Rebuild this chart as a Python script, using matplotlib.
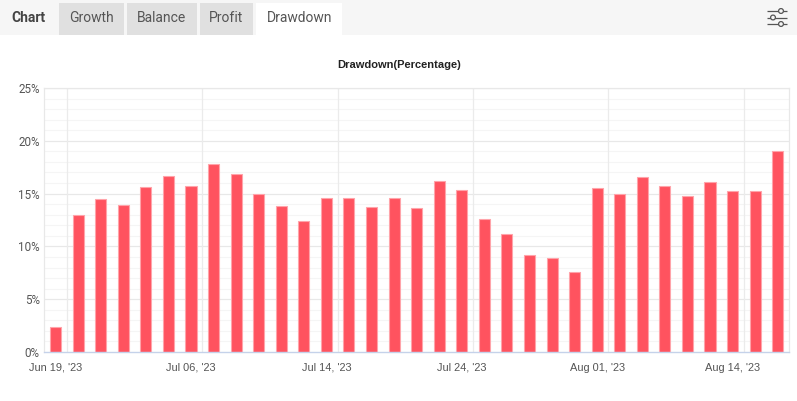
import matplotlib
matplotlib.use("Agg")
import matplotlib.pyplot as plt
from matplotlib.patches import Rectangle, Circle
import numpy as np

W, H = 797, 401
values = [2.4, 13.0, 14.5, 13.9, 15.6, 16.7, 15.7, 17.8, 16.9, 15.0, 13.8, 12.4,
          14.6, 14.6, 13.7, 14.6, 13.6, 16.2, 15.3, 12.6, 11.2, 9.2, 8.9, 7.6,
          15.5, 15.0, 16.6, 15.7, 14.8, 16.1, 15.2, 15.2, 19.0]
label_pos = [0, 6, 12, 18, 24, 30]
date_labels = ["Jun 19, '23", "Jul 06, '23", "Jul 14, '23", "Jul 24, '23", "Aug 01, '23", "Aug 14, '23"]
major_y = [0, 5, 10, 15, 20, 25]
minor_y = [v for v in range(26) if v % 5]
tabs = ["Growth", "Balance", "Profit"]

fig = plt.figure(figsize=(W/100, H/100), dpi=100, facecolor="white")

ui = fig.add_axes([0, 0, 1, 1], zorder=5)
ui.set_xlim(0, W); ui.set_ylim(H, 0); ui.axis("off")
ui.add_patch(Rectangle((0, 0), W, 35, fc="#f6f6f6", ec="none"))
for (x0, x1), t in zip([(59, 124), (127, 197), (200, 253)], tabs):
    ui.add_patch(Rectangle((x0, 3), x1-x0, 32, fc="#e0e0e0", ec="none"))
    ui.text((x0+x1)/2-0.3, 17.6, t, fontsize=10, family="Roboto", color="#555555", ha="center", va="center")
ui.add_patch(Rectangle((256, 3), 86, 32, fc="white", ec="none"))
ui.text(299.5, 17.6, "Drawdown", fontsize=10, family="Roboto", color="#555555", ha="center", va="center")
ui.text(28.5, 17.6, "Chart", fontsize=10, family="Roboto", weight="bold", color="#444444", ha="center", va="center")
for y, cx in [(11, 781), (17.5, 773), (24, 781)]:
    ui.plot([767, 787], [y, y], color="#555555", lw=0.9, solid_capstyle="butt")
    ui.add_patch(Circle((cx, y), 2.4, fc="#f6f6f6", ec="#555555", lw=0.9, zorder=3))
ui.text(399, 65, "Drawdown(Percentage)", fontsize=8.0, family="Liberation Sans", weight="bold", color="#222222", ha="center", va="center")

left, right, top, bottom = 44.3, 789, 88, 352
ax = fig.add_axes([left/W, 1-bottom/H, (right-left)/W, (bottom-top)/H])
x = np.arange(len(values))
ax.set_xlim(-0.5, len(values)-0.5)
ax.set_ylim(0, 25)
ax.bar(x, values, width=0.49, color="#ff535f", edgecolor="#ffa4aa", linewidth=0.8, zorder=3)
for v in minor_y:
    ax.axhline(v, color="#f5f5f5", lw=0.8, zorder=1)
for v in major_y[1:]:
    ax.axhline(v, color="#e8e8e8", lw=0.9, zorder=2)
for p in label_pos:
    ax.axvline(p+0.5, color="#ebebeb", lw=0.9, zorder=2)
for s in ("top", "right", "left"):
    ax.spines[s].set_color("#e8e8e8"); ax.spines[s].set_linewidth(0.9)
ax.spines["bottom"].set_color("#c5d2ea"); ax.spines["bottom"].set_linewidth(1.0)
ax.spines["bottom"].set_zorder(4)
ax.set_xticks(label_pos, date_labels)
ax.set_yticks(major_y, [f"{v}%" for v in major_y])
ax.tick_params(length=0)
ax.tick_params(axis="x", pad=7.8, labelsize=7.9, labelcolor="#555555")
ax.tick_params(axis="y", pad=3.2, labelsize=8.4, labelcolor="#555555")
for l in ax.get_xticklabels(): l.set_family("Liberation Sans")
for l in ax.get_yticklabels(): l.set_family("Roboto")

fig.savefig("out.png", dpi=100)
